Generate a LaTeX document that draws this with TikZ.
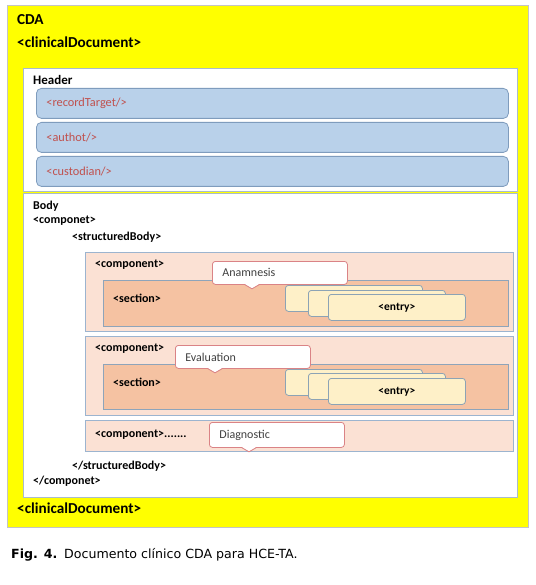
\documentclass[tikz,border=0pt]{standalone}
\usepackage{fontspec}
\setmainfont{Carlito}
\newfontfamily\capfont{DejaVu Sans}
\usetikzlibrary{calc}
\definecolor{cdayellow}{HTML}{FFFF00}
\definecolor{cdaline}{HTML}{C4C4C4}
\definecolor{panelline}{HTML}{A9BBCB}
\definecolor{hdrline}{HTML}{7F9CBD}
\definecolor{hdrblue}{HTML}{B9D1EA}
\definecolor{tagred}{HTML}{C0504D}
\definecolor{compline}{HTML}{9CB4CF}
\definecolor{comppeach}{HTML}{FBE1D4}
\definecolor{secline}{HTML}{8EA4BA}
\definecolor{secorange}{HTML}{F5C2A2}
\definecolor{entline}{HTML}{8CA3B5}
\definecolor{entcream}{HTML}{FEF0C8}
\definecolor{callred}{HTML}{DA8386}
\definecolor{calltext}{HTML}{404040}

\begin{document}
\begin{tikzpicture}[x=1pt, y=-1pt,
  cdaframe/.style={draw=#1, line width=0.8pt, anchor=north west, inner sep=0pt},
  panel/.style={cdaframe=panelline, fill=white, minimum width=494pt},
  hdrbox/.style={cdaframe=hdrline, fill=hdrblue, rounded corners=5pt,
    minimum height=30pt, text width=452pt, inner xsep=10pt, align=left,
    font=\fontsize{12.3}{14}\selectfont, text=tagred},
  compbox/.style={cdaframe=compline, fill=comppeach, minimum width=428pt},
  secbox/.style={cdaframe=secline, fill=secorange, minimum width=405pt},
  entbox/.style={cdaframe=entline, fill=entcream, rounded corners=3pt,
    minimum width=137pt, minimum height=26pt,
    font=\fontsize{11.5}{13}\selectfont\bfseries},
  callout/.style={cdaframe=callred, fill=white, rounded corners=3pt,
    minimum height=23pt, text width=115pt, inner xsep=10pt, align=left,
    font=\fontsize{12}{14}\selectfont, text=calltext},
  tag/.style={anchor=west, inner sep=0pt, font=\fontsize{12}{13}\selectfont\bfseries},
  title/.style={anchor=west, inner sep=0pt, font=\fontsize{15.2}{17}\selectfont\bfseries},
]
\useasboundingbox (0,0) rectangle (535,585);

% Outer document
\node[cdaframe=cdaline, fill=cdayellow, line width=1pt,
      minimum width=521pt, minimum height=522pt] (cda) at (7,5) {};
\node[title] (cdatitle) at (17,20) {CDA};
\node[title] (cdaopen) at (17,42) {<clinicalDocument>};
\node[title] (cdaclose) at (17,508) {<clinicalDocument>};

% =============================================
% Header
% =============================================
\node[panel, minimum height=123pt] (header) at (23,68) {};
\node[tag, font=\fontsize{13}{14}\selectfont\bfseries] (headerlbl) at (33,80) {Header};

\node[hdrbox] (record) at (36,88) {<recordTarget/>};
\node[hdrbox] (author) at (36,122) {<authot/>};
\node[hdrbox] (custodian) at (36,156) {<custodian/>};

% =============================================
% Body
% =============================================
\node[panel, minimum height=304pt] (body) at (23,193) {};
\node[tag] (bodylbl) at (33,206) {Body};
\node[tag] (compopen) at (33,221) {<componet>};
\node[tag] (sbopen) at (72,237) {<structuredBody>};
\node[tag] (sbclose) at (72,466) {</structuredBody>};
\node[tag] (compclose) at (33,481) {</componet>};

% Component: Anamnesis
\node[compbox, minimum height=79pt] (compA) at (85,252) {};
\node[tag] (compAlbl) at (95,265) {<component>};
\node[secbox, minimum height=46pt] (secA) at (103,280) {};
\node[tag] (secAlbl) at (113,298) {<section>};
\node[entbox] (entA1) at (285,285) {};
\node[entbox] (entA2) at (308,290) {};
\node[entbox] (entA3) at (328,294) {<entry>};
\node[callout] (ana) at (212,261) {Anamnesis};
\coordinate (anatip) at ($(ana.south west)+(40,4)$);
\fill[white] ($(anatip)+(-7,-4.7)$) -- (anatip) -- ($(anatip)+(7,-4.7)$) -- cycle;
\draw[callred, line width=0.8pt] ($(anatip)+(-7,-4)$) -- (anatip) -- ($(anatip)+(7,-4)$);

% Component: Evaluation
\node[compbox, minimum height=79pt] (compE) at (85,336) {};
\node[tag] (compElbl) at (95,349) {<component>};
\node[secbox, minimum height=45pt] (secE) at (103,364) {};
\node[tag] (secElbl) at (113,382) {<section>};
\node[entbox] (entE1) at (285,369) {};
\node[entbox] (entE2) at (308,373) {};
\node[entbox] (entE3) at (328,378) {<entry>};
\node[callout] (eval) at (175,345) {Evaluation};
\coordinate (evaltip) at ($(eval.south west)+(40,4)$);
\fill[white] ($(evaltip)+(-7,-4.7)$) -- (evaltip) -- ($(evaltip)+(7,-4.7)$) -- cycle;
\draw[callred, line width=0.8pt] ($(evaltip)+(-7,-4)$) -- (evaltip) -- ($(evaltip)+(7,-4)$);

% Component: Diagnostic
\node[compbox, minimum height=31pt] (compD) at (85,420) {};
\node[tag] (compDlbl) at (95,435) {<component>.......};
\node[callout, minimum height=25pt] (diag) at (209,422) {Diagnostic};
\coordinate (diagtip) at ($(diag.south west)+(40,4)$);
\fill[white] ($(diagtip)+(-7,-4.7)$) -- (diagtip) -- ($(diagtip)+(7,-4.7)$) -- cycle;
\draw[callred, line width=0.8pt] ($(diagtip)+(-7,-4)$) -- (diagtip) -- ($(diagtip)+(7,-4)$);

% Caption
\node[anchor=west, inner sep=0pt, font=\capfont\fontsize{12.6}{14}\selectfont\bfseries]
  (figlbl) at (11,555) {Fig. 4.};
\node[anchor=west, inner sep=0pt, font=\capfont\fontsize{12.6}{14}\selectfont]
  (figtxt) at (64,555) {Documento clínico CDA para HCE-TA.};

\end{tikzpicture}
\end{document}
